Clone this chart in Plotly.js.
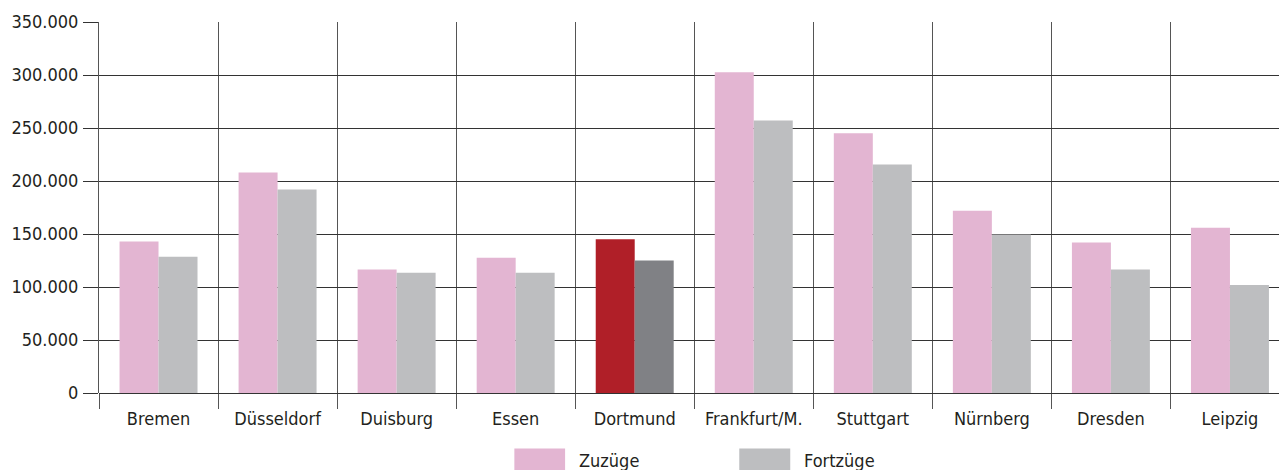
<!DOCTYPE html>
<html>
<head>
<meta charset="utf-8">
<script src="https://cdn.plot.ly/plotly-3.0.1.min.js"></script>
<style>
html,body{margin:0;padding:0;background:#fff;overflow:hidden;}
#chart{width:1279px;height:470px;}
</style>
</head>
<body>
<div id="chart"></div>
<script>
var categories = ["Bremen","Düsseldorf","Duisburg","Essen","Dortmund","Frankfurt/M.","Stuttgart","Nürnberg","Dresden","Leipzig"];
var zuzuege = [143000,208000,116500,127500,145000,302500,245000,172000,142000,156000];
var fortzuege = [128500,192000,113500,113500,125000,257000,215500,149500,116500,102000];
var seriesNames = ["Zuzüge","Fortzüge"];
var highlight = "Dortmund";
var yTicks = [0,50000,100000,150000,200000,250000,300000,350000];

var FONT = '"Liberation Sans Narrow","DejaVu Sans Condensed","Open Sans",sans-serif';
var pink = "#e3b5d2", gray = "#bdbec0", red = "#b01f28", dgray = "#808185";
var txt = "#231f20";

var zColors = categories.map(function(c){return c===highlight?red:pink;});
var fColors = categories.map(function(c){return c===highlight?dgray:gray;});

var traces = [
  {type:"bar", x:categories, y:zuzuege, name:seriesNames[0], marker:{color:zColors}, hoverinfo:"x+y"},
  {type:"bar", x:categories, y:fortzuege, name:seriesNames[1], marker:{color:fColors}, hoverinfo:"x+y"}
];

var layout = {
  width:1279, height:470,
  margin:{l:98.5, r:0, t:22, b:76.5},
  paper_bgcolor:"#fff", plot_bgcolor:"#fff",
  separators:",.",
  showlegend:false,
  barmode:"group", bargap:0.345, bargroupgap:0,
  font:{family:FONT, size:18, color:txt},
  xaxis:{
    type:"category", range:[-0.5, 9.412],
    tickson:"boundaries", ticks:"outside", ticklen:15, tickcolor:"#555", tickwidth:1,
    showgrid:true, gridcolor:"#555", gridwidth:1,
    showline:false, zeroline:false,
    tickfont:{family:FONT, size:18, color:txt},
    ticklabelstandoff:13,
    fixedrange:true
  },
  yaxis:{
    range:[0,350000], tickvals:yTicks, tickformat:",d",
    ticks:"outside", ticklen:15, tickcolor:"#333", tickwidth:1,
    showgrid:true, gridcolor:"#333", gridwidth:1,
    showline:true, linecolor:"#555", linewidth:1,
    zeroline:true, zerolinecolor:"#333", zerolinewidth:1,
    tickfont:{family:FONT, size:18, color:txt},
    ticklabelstandoff:1,
    fixedrange:true
  },
  shapes:[
    {type:"rect", xref:"paper", yref:"paper", x0:0.352, x1:0.395, y0:-0.1494, y1:-0.215, fillcolor:pink, line:{width:0}},
    {type:"rect", xref:"paper", yref:"paper", x0:0.5426, x1:0.5858, y0:-0.1494, y1:-0.215, fillcolor:gray, line:{width:0}}
  ],
  annotations:[
    {xref:"paper", yref:"paper", x:0.4053, y:-0.181, xanchor:"left", yanchor:"middle", showarrow:false, text:seriesNames[0], font:{family:FONT, size:18, color:txt}},
    {xref:"paper", yref:"paper", x:0.5959, y:-0.181, xanchor:"left", yanchor:"middle", showarrow:false, text:seriesNames[1], font:{family:FONT, size:18, color:txt}}
  ]
};

Plotly.newPlot("chart", traces, layout, {displayModeBar:false, staticPlot:true});
</script>
</body>
</html>
